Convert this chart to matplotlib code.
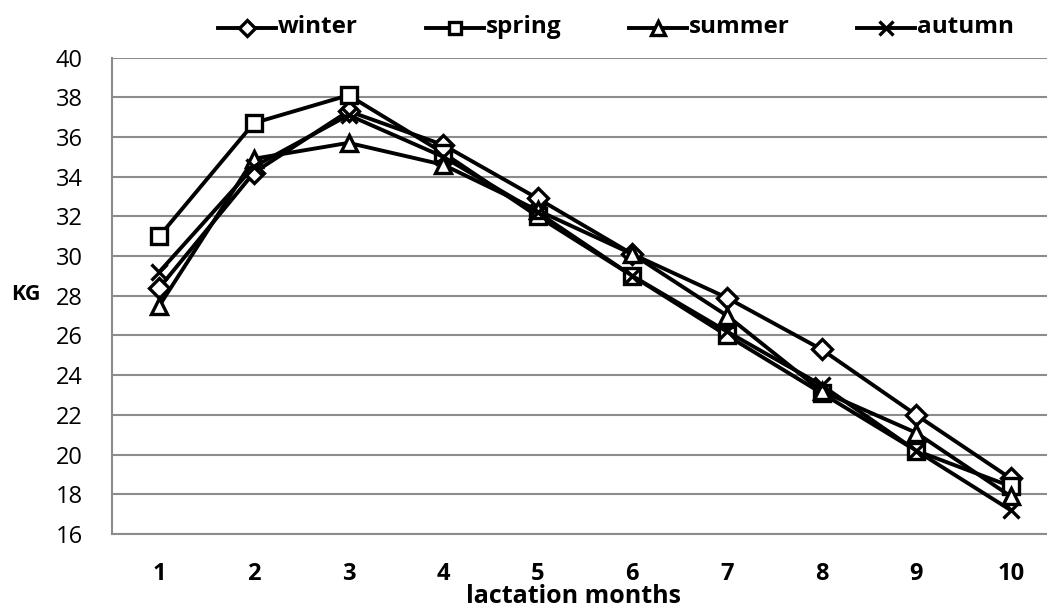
import matplotlib
matplotlib.use("Agg")
import matplotlib.pyplot as plt
from matplotlib.lines import Line2D

months = [1, 2, 3, 4, 5, 6, 7, 8, 9, 10]
winter = [28.4, 34.2, 37.3, 35.6, 32.9, 30.1, 27.9, 25.3, 22.0, 18.8]
spring = [31.0, 36.7, 38.1, 35.2, 32.0, 29.0, 26.0, 23.1, 20.2, 18.4]
summer = [27.5, 34.9, 35.7, 34.6, 32.3, 30.1, 27.0, 23.2, 21.1, 17.9]
autumn = [29.2, 34.5, 37.1, 35.0, 32.2, 29.0, 26.2, 23.5, 20.2, 17.2]
series_names = ["winter", "spring", "summer", "autumn"]
yticks = [16, 18, 20, 22, 24, 26, 28, 30, 32, 34, 36, 38, 40]

plt.rcParams['font.family'] = ['Open Sans', 'DejaVu Sans']

fig = plt.figure(figsize=(10.47, 6.11), dpi=100)
ax = fig.add_axes([112/1047, (611-534)/611, (1058-112)/1047, (534-57.5)/611])

styles = [
    (winter, 'D', 10),
    (spring, 's', 11),
    (summer, '^', 12),
    (autumn, 'x', 12),
]
handles = []
for (vals, mk, ms), name in zip(styles, series_names):
    ln, = ax.plot(months, vals, color='black', lw=2.8, marker=mk, ms=ms,
                  mfc='white', mec='black', mew=2.4, label=name, zorder=3,
                  clip_on=False)
    handles.append(ln)

ax.set_xlim(0.5, 10.5)
ax.set_ylim(16, 40)
ax.set_yticks(yticks)
ax.set_xticks(months)
ax.yaxis.grid(True, color='#8c8c8c', lw=1.5)
ax.set_axisbelow(True)
for s in ['top', 'right']:
    ax.spines[s].set_visible(False)
for s in ['left', 'bottom']:
    ax.spines[s].set_color('#8c8c8c')
    ax.spines[s].set_linewidth(1.5)
ax.tick_params(axis='y', length=0, pad=21, labelsize=17)
ax.tick_params(axis='x', length=0, pad=20, labelsize=17)
for t in ax.get_xticklabels():
    t.set_fontweight('bold')

fig.text(26/1047, 1 - 294/611, 'KG', fontsize=15.5, fontweight='bold',
         ha='center', va='center')
fig.text(574/1047, 1 - 603/611, 'lactation months', fontsize=18,
         fontweight='bold', ha='center', va='baseline')

xs = [247, 455, 658, 886]
for h, x, name in zip(handles, xs, series_names):
    fig.add_artist(Line2D([(x-29)/1047, x/1047, (x+29)/1047],
                          [1-28/611]*3,
                          color='black', lw=2.8, marker=h.get_marker(),
                          markevery=[1], ms=h.get_markersize()*0.85,
                          mfc='white', mec='black', mew=2.4))
    fig.text((x+31)/1047, 1-27/611, name, fontsize=17.5, fontweight='bold',
             ha='left', va='center')

fig.savefig('out.png', dpi=100)
